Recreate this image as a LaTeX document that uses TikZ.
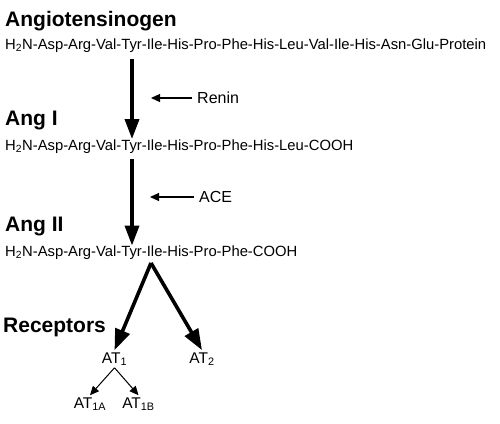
\documentclass[tikz,border=0pt]{standalone}
\usepackage{fontspec}
\setmainfont{Liberation Sans}
\usetikzlibrary{arrows.meta, positioning}
\tikzstyle{head} = [anchor=base west, inner sep=0pt, font=\fontsize{21}{22}\selectfont\bfseries]
\tikzstyle{chain} = [anchor=base west, inner sep=0pt, font=\fontsize{14.8}{15}\selectfont]
\tikzstyle{enzyme} = [anchor=west, inner sep=0pt, font=\fontsize{16}{17}\selectfont]
\tikzstyle{rec} = [inner sep=2pt, font=\fontsize{15.5}{16}\selectfont]
\tikzstyle{cleave} = [draw, line width=3.6pt, -{Triangle[length=20pt, width=14pt]}]
\tikzstyle{bind} = [draw, line width=3.6pt, -{Triangle[length=21pt, width=15pt]}]
\tikzstyle{line} = [draw, line width=1.2pt, shorten <=5pt, -{Triangle[length=9pt, width=8pt]}]
\tikzstyle{subline} = [draw, line width=1pt, -{Triangle[length=9pt, width=8pt]}]

\begin{document}
\begin{tikzpicture}[x=1pt, y=-1pt]
    \useasboundingbox (0,0) rectangle (500,423);
    \node[head](angio) at (5,26.5) {Angiotensinogen};
    \node[chain](seqAngio) at (5,49.5) {H\textsubscript{2}N-Asp-Arg-Val-Tyr-Ile-His-Pro-Phe-His-Leu-Val-Ile-His-Asn-Glu-Protein};
    \node[head](angI) at (5,125) {Ang I};
    \node[chain](seqAngI) at (5,150) {H\textsubscript{2}N-Asp-Arg-Val-Tyr-Ile-His-Pro-Phe-His-Leu-COOH};
    \node[head](angII) at (5,231.5) {Ang II};
    \node[chain](seqAngII) at (5,256.5) {H\textsubscript{2}N-Asp-Arg-Val-Tyr-Ile-His-Pro-Phe-COOH};
    \node[head](receptors) at (3,332.5) {Receptors};

    \node[enzyme](renin) at (197,98) {Renin};
    \node[enzyme](ace) at (199,197) {ACE};

    \coordinate (tyr) at (132,0);
    \coordinate (split) at (151,263);
    \node[rec](at1) at (114.5,359) {AT\textsubscript{1}};
    \node[rec](at2) at (202,359) {AT\textsubscript{2}};
    \node[rec](at1a) at (90,404) {AT\textsubscript{1A}};
    \node[rec](at1b) at (138.5,404) {AT\textsubscript{1B}};

    \path[cleave] (seqAngio.south -| tyr) ++(0,6) -- (seqAngI.north -| tyr);
    \path[cleave] (seqAngI.south -| tyr) ++(0,6) -- (seqAngII.north -| tyr);
    \path[line] (renin.west) -- +(-46,0);
    \path[line] (ace.west) -- +(-49,0);

    \path[bind] (split) -- (at1.north);
    \path[bind] (split) -- (at2.north);
    \path[subline] (at1.south) -- (at1a.north);
    \path[subline] (at1.south) -- (at1b.north);
\end{tikzpicture}
\end{document}
